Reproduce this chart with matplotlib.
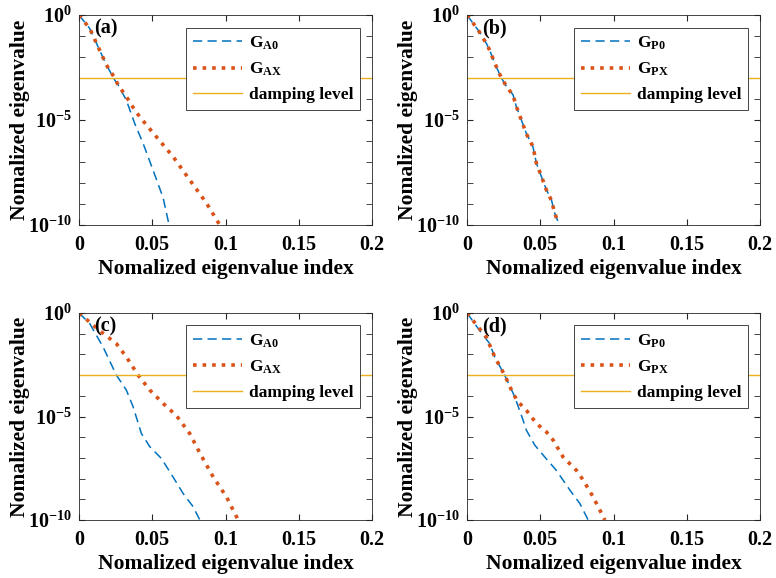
import matplotlib
matplotlib.use("Agg")
import matplotlib.pyplot as plt
import numpy as np
from matplotlib.ticker import FixedLocator, FuncFormatter, NullFormatter

plt.rcParams['font.family'] = ['Liberation Serif', 'DejaVu Serif']
plt.rcParams['font.weight'] = 'bold'
plt.rcParams['mathtext.fontset'] = 'custom'
plt.rcParams['mathtext.rm'] = 'Liberation Serif:bold'
plt.rcParams['mathtext.bf'] = 'Liberation Serif:bold'
plt.rcParams['mathtext.it'] = 'Liberation Serif:bold'

BLUE = '#0072BD'
ORANGE = '#D95319'
YELLOW = '#EDB120'

damping_level = 1e-3

# (a)
a_x0 = [0, 0.0073, 0.0141, 0.0187, 0.0244, 0.0267, 0.0323, 0.038, 0.0437, 0.0506, 0.0574, 0.0615]
a_y0 = [1, 0.23, 2.1e-2, 4.2e-3, 8e-4, 4.7e-4, 8.9e-5, 6.9e-6, 7.9e-7, 4e-8, 2e-9, 1e-10]
a_xx = [0, 0.0073, 0.0141, 0.0187, 0.0244, 0.0267, 0.0323, 0.0369, 0.0415, 0.0528, 0.0642, 0.0756, 0.087, 0.0961]
a_yx = [1, 0.23, 2.1e-2, 4.2e-3, 1e-3, 4.7e-4, 1.3e-4, 4e-5, 1.4e-5, 1.6e-6, 1.8e-7, 1.4e-8, 1.1e-9, 1e-10]

# (b)
b_x0 = [0, 0.0075, 0.0132, 0.0155, 0.0189, 0.0235, 0.0269, 0.0314, 0.0337, 0.0371, 0.0405, 0.045, 0.0474, 0.0508, 0.0542, 0.0576, 0.0599, 0.0622]
b_y0 = [1, 0.195, 4.5e-2, 2.1e-2, 5e-3, 1e-3, 4e-4, 1.6e-4, 4.3e-5, 1e-5, 2.3e-6, 5.4e-7, 8.7e-8, 2e-8, 4.7e-9, 1.6e-9, 3.6e-10, 1.4e-10]
b_xx = [0, 0.0075, 0.0132, 0.0155, 0.0189, 0.0235, 0.0269, 0.0314, 0.0337, 0.0371, 0.0405, 0.045, 0.0474, 0.0508, 0.0542, 0.0576, 0.0599, 0.0622]
b_yx = [1, 0.2, 4.4e-2, 2.1e-2, 5.2e-3, 1e-3, 4.1e-4, 1.5e-4, 4.4e-5, 1e-5, 2.2e-6, 5.5e-7, 8.5e-8, 2.1e-8, 4.6e-9, 1.5e-9, 3.7e-10, 1.3e-10]

# (c)
c_x0 = [0, 0.0073, 0.0164, 0.0255, 0.0323, 0.0369, 0.0426, 0.0483, 0.0563, 0.0642, 0.0711, 0.0779, 0.0825]
c_y0 = [1, 0.31, 2.3e-2, 1e-3, 1.9e-4, 3e-5, 1.5e-6, 3.5e-7, 9.3e-8, 1.2e-8, 1.9e-9, 4.4e-10, 1e-10]
c_xx = [0, 0.0141, 0.0255, 0.0323, 0.0403, 0.0483, 0.0574, 0.0665, 0.0756, 0.0825, 0.0916, 0.1007, 0.1052, 0.1087]
c_yx = [1, 0.14, 3.3e-2, 7.6e-3, 1e-3, 1.9e-4, 4.3e-5, 1.1e-5, 1.5e-6, 1.7e-7, 1.2e-8, 1.3e-9, 3e-10, 1e-10]

# (d)
d_x0 = [0, 0.0087, 0.0155, 0.0189, 0.0257, 0.0326, 0.0383, 0.0405, 0.0462, 0.0531, 0.061, 0.0702, 0.077, 0.0827]
d_y0 = [1, 0.14, 3.3e-2, 7.6e-3, 1e-3, 8.9e-5, 6.6e-6, 2.2e-6, 4.2e-7, 1.1e-7, 2.5e-8, 2.8e-9, 6.3e-10, 1e-10]
d_xx = [0, 0.0087, 0.0132, 0.0189, 0.0257, 0.0314, 0.0349, 0.0405, 0.0474, 0.0542, 0.0588, 0.0656, 0.0747, 0.0793, 0.0861, 0.0907, 0.0941]
d_yx = [1, 0.17, 6.9e-2, 7.6e-3, 1e-3, 1.3e-4, 5.1e-5, 2e-5, 4.6e-6, 1.8e-6, 7.2e-7, 1.1e-7, 2.5e-8, 8.5e-9, 1.3e-9, 3e-10, 1e-10]

panels = [
    ('(a)', a_x0, a_y0, a_xx, a_yx, r'$\mathbf{G_{A0}}$', r'$\mathbf{G_{AX}}$'),
    ('(b)', b_x0, b_y0, b_xx, b_yx, r'$\mathbf{G_{P0}}$', r'$\mathbf{G_{PX}}$'),
    ('(c)', c_x0, c_y0, c_xx, c_yx, r'$\mathbf{G_{A0}}$', r'$\mathbf{G_{AX}}$'),
    ('(d)', d_x0, d_y0, d_xx, d_yx, r'$\mathbf{G_{P0}}$', r'$\mathbf{G_{PX}}$'),
]

# axes boxes in figure fractions (left, bottom, width, height)
boxes = [
    [0.1018, 0.6107, 0.3776, 0.3633],
    [0.6018, 0.6107, 0.3776, 0.3633],
    [0.1018, 0.1003, 0.3776, 0.3582],
    [0.6018, 0.1003, 0.3776, 0.3582],
]


def log_fmt(v, pos):
    e = int(round(np.log10(v)))
    return r'$\mathbf{10^{%d}}$' % e


fig = plt.figure(figsize=(7.76, 5.78), dpi=100)

for box, (tag, x0, y0, xx, yx, l0, lx) in zip(boxes, panels):
    ax = fig.add_axes(box)
    ax.plot(x0, y0, '--', color=BLUE, lw=1.1, dashes=(6, 3.5), label=l0)
    ax.plot(xx, yx, ':', color=ORANGE, lw=2.6, label=lx)
    ax.axhline(damping_level, color=YELLOW, lw=1.0, label='damping level')
    ax.set_yscale('log')
    ax.set_xlim(0, 0.2)
    ax.set_ylim(1e-10, 1)
    ax.set_xticks([0, 0.05, 0.1, 0.15, 0.2])
    ax.set_xticklabels(['0', '0.05', '0.1', '0.15', '0.2'])
    ax.yaxis.set_major_locator(FixedLocator([1e-10, 1e-5, 1]))
    ax.yaxis.set_major_formatter(FuncFormatter(log_fmt))
    ax.yaxis.set_minor_locator(FixedLocator([10.0 ** -k for k in range(11)]))
    ax.yaxis.set_minor_formatter(NullFormatter())
    ax.tick_params(which='both', direction='in', top=True, right=True,
                   labelsize=14.5, color='#262626', length=4)
    ax.tick_params(axis='x', which='major', pad=7)
    ax.tick_params(axis='y', which='major', pad=5)
    ax.tick_params(axis='x', which='minor', bottom=False, top=False)
    for s in ax.spines.values():
        s.set_color('#262626')
        s.set_linewidth(0.6)
    ax.set_xlabel('Nomalized eigenvalue index', fontsize=15.5, fontweight='bold', labelpad=3)
    ax.set_ylabel('Nomalized eigenvalue', fontsize=15.5, fontweight='bold', labelpad=-1)
    ax.text(0.05, 0.985, tag, transform=ax.transAxes, fontsize=14.5,
            fontweight='bold', va='top', ha='left')
    leg = ax.legend(loc='upper right', bbox_to_anchor=(0.96, 0.94), borderaxespad=0,
                    fontsize=12.5, fancybox=False, framealpha=1, edgecolor='#262626',
                    handlelength=2.8, handletextpad=0.4, borderpad=0.4,
                    labelspacing=0.5)
    leg.get_frame().set_linewidth(0.6)

fig.savefig('out.png', dpi=100)
